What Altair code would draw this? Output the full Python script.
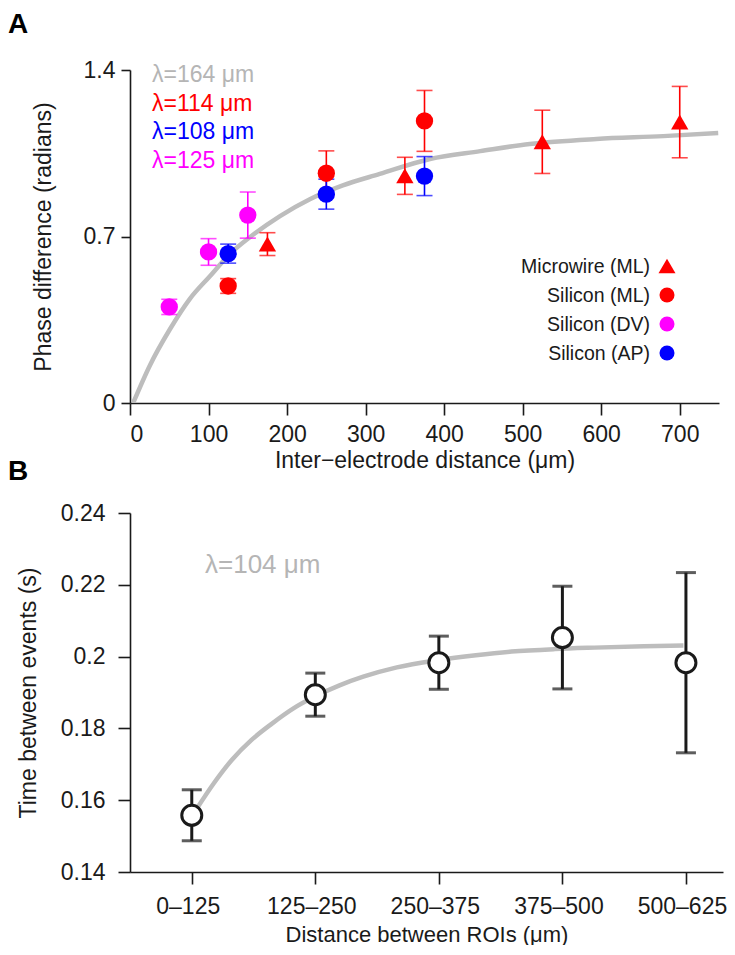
import altair as alt
import pandas as pd

FONT = "Liberation Sans"
INK = "#1a1a1a"
FIT_GREY = "#BDBDBD"

# ---------------- Panel A data ----------------
series_names = ["Microwire (ML)", "Silicon (ML)", "Silicon (DV)", "Silicon (AP)"]
series_colors = ["#FF0000", "#FF0000", "#FF00FF", "#0000FF"]
series_shapes = ["triangle-up", "circle", "circle", "circle"]

mw_x = [175, 350, 525, 700]
mw_y = [0.668, 0.955, 1.098, 1.181]
mw_err = [0.048, 0.078, 0.133, 0.150]

siml_x = [125, 250, 375]
siml_y = [0.492, 0.966, 1.186]
siml_err = [0.031, 0.094, 0.128]

sidv_x = [50, 100, 150]
sidv_y = [0.404, 0.635, 0.790]
sidv_err = [0.032, 0.056, 0.097]

siap_x = [125, 250, 375]
siap_y = [0.628, 0.878, 0.954]
siap_err = [0.040, 0.063, 0.082]

fit_a_x = [4, 25, 51, 76, 102, 127, 153, 191, 229, 271, 318, 382, 446, 509, 594, 679, 749]
fit_a_y = [0.0, 0.156, 0.311, 0.437, 0.534, 0.626, 0.698, 0.786, 0.857, 0.915,
           0.963, 1.026, 1.059, 1.089, 1.110, 1.122, 1.135]

lambda_a_text = ["λ=164 μm", "λ=114 μm", "λ=108 μm", "λ=125 μm"]
lambda_a_colors = ["#B5B5B5", "#FF0000", "#0000FF", "#FF00FF"]

x_ticks_a = [0, 100, 200, 300, 400, 500, 600, 700]
y_ticks_a = [0, 0.7, 1.4]

# ---------------- Panel B data ----------------
roi_bins = ["0–125", "125–250", "250–375", "375–500", "500–625"]
roi_mean = [0.1558, 0.1894, 0.1983, 0.2053, 0.1983]
roi_err = [0.0071, 0.0060, 0.0074, 0.0143, 0.0251]

fit_b_x = [66, 85, 103, 123, 143, 165, 188, 212, 236, 270, 311, 350, 386, 430, 470, 520, 560]
fit_b_y = [0.1570, 0.1648, 0.1712, 0.1768, 0.1812, 0.1855, 0.1890, 0.1920, 0.1944,
           0.1970, 0.1990, 0.2004, 0.2014, 0.2021, 0.2025, 0.2029, 0.2031]

lambda_b_text = "λ=104 μm"
y_ticks_b = [0.14, 0.16, 0.18, 0.20, 0.22, 0.24]

# ---------------- tables ----------------
rows = []
for name, xs, ys, es in zip(series_names,
                            [mw_x, siml_x, sidv_x, siap_x],
                            [mw_y, siml_y, sidv_y, siap_y],
                            [mw_err, siml_err, sidv_err, siap_err]):
    for xv, yv, ev in zip(xs, ys, es):
        rows.append({"series": name, "x": xv, "y": yv, "lo": yv - ev, "hi": yv + ev})
df_a = pd.DataFrame(rows)
df_fit_a = pd.DataFrame({"x": fit_a_x, "y": fit_a_y})

roi_mid = [(float(a) + float(b)) / 2 for a, b in (s.split("–") for s in roi_bins)]
df_b = pd.DataFrame({
    "bin": roi_bins, "mid": roi_mid, "y": roi_mean,
    "lo": [m - e for m, e in zip(roi_mean, roi_err)],
    "hi": [m + e for m, e in zip(roi_mean, roi_err)],
})
df_fit_b = pd.DataFrame({"mid": fit_b_x, "y": fit_b_y})

# ---------------- Panel A ----------------
x_axis_a = alt.Axis(values=x_ticks_a, title="Inter−electrode distance (μm)", format="d",
                    tickSize=12, labelPadding=8, titlePadding=3)
y_axis_a = alt.Axis(values=y_ticks_a, title="Phase difference (radians)", format=".1~f",
                    tickSize=9, labelPadding=6, titlePadding=28)
x_scale_a = alt.Scale(domain=[0, 750], nice=False, zero=False)
y_scale_a = alt.Scale(domain=[0, 1.4], nice=False)

def xa(field):
    return alt.X(field, scale=x_scale_a, axis=x_axis_a)

def ya(field):
    return alt.Y(field, scale=y_scale_a, axis=y_axis_a)

color_a = alt.Color("series:N", scale=alt.Scale(domain=series_names, range=series_colors), legend=None)

fit_a = alt.Chart(df_fit_a).mark_line(color=FIT_GREY, strokeWidth=4.5, interpolate="monotone", clip=True).encode(
    x=xa("x:Q"), y=ya("y:Q"))

err_a = alt.Chart(df_a).mark_errorbar(ticks={"size": 16}, thickness=1.6).encode(
    x=xa("x:Q"), y=ya("lo:Q"), y2="hi:Q", color=color_a)

pts_a = alt.Chart(df_a).mark_point(filled=True, opacity=1, size=300).encode(
    x=xa("x:Q"), y=ya("y:Q"), color=color_a,
    shape=alt.Shape("series:N", scale=alt.Scale(domain=series_names, range=series_shapes), legend=None))

layers_a = [fit_a, err_a, pts_a]

for i, (t, c) in enumerate(zip(lambda_a_text, lambda_a_colors)):
    layers_a.append(
        alt.Chart(pd.DataFrame({"t": [t]})).mark_text(
            align="left", baseline="alphabetic", font=FONT, fontSize=23, color=c
        ).encode(text="t:N", x=alt.value(22), y=alt.value(12 + 28.5 * i))
    )

legend_sizes = {"triangle-up": 290, "circle": 225}
for i, (name, c, shp) in enumerate(zip(series_names, series_colors, series_shapes)):
    one = pd.DataFrame({"t": [name]})
    layers_a.append(
        alt.Chart(one).mark_text(align="right", baseline="alphabetic", font=FONT,
                                 fontSize=19.5, color=INK).encode(
            text="t:N", x=alt.value(520), y=alt.value(202.5 + 29 * i))
    )
    layers_a.append(
        alt.Chart(one).mark_point(shape=shp, filled=True, opacity=1, color=c,
                                  size=legend_sizes[shp]).encode(
            x=alt.value(537), y=alt.value(196 + 29 * i))
    )

panel_a = alt.layer(*layers_a).properties(
    width=589, height=333,
    title=alt.TitleParams("A", anchor="start", frame="group", fontSize=28, fontWeight="bold",
                          font=FONT, color="black", dx=-122, offset=20),
)

# ---------------- Panel B ----------------
label_expr = " : ".join(f"datum.value == {m} ? '{b}'" for m, b in zip(roi_mid, roi_bins)) + " : ''"
x_axis_b = alt.Axis(values=roi_mid, labelExpr=label_expr, title="Distance between ROIs (μm)",
                    tickSize=12, labelPadding=11, labelOffset=-4, titlePadding=6, titleFontSize=22)
y_axis_b = alt.Axis(values=y_ticks_b, format=".2~f", title="Time between events (s)",
                    tickSize=12, labelPadding=13, titlePadding=20)
x_scale_b = alt.Scale(domain=[0, 600], nice=False)
y_scale_b = alt.Scale(domain=[0.14, 0.24], nice=False, zero=False)

def xb(field):
    return alt.X(field, scale=x_scale_b, axis=x_axis_b)

def yb(field):
    return alt.Y(field, scale=y_scale_b, axis=y_axis_b)

fit_b = alt.Chart(df_fit_b).mark_line(color=FIT_GREY, strokeWidth=4.5, interpolate="monotone").encode(
    x=xb("mid:Q"), y=yb("y:Q"))

err_b = alt.Chart(df_b).mark_errorbar(ticks={"size": 20}, thickness=3, color=INK).encode(
    x=xb("mid:Q"), y=yb("lo:Q"), y2="hi:Q")

pts_b = alt.Chart(df_b).mark_point(shape="circle", filled=True, fill="white", stroke=INK,
                                   strokeWidth=3, size=400, opacity=1).encode(
    x=xb("mid:Q"), y=yb("y:Q"))

lam_b = alt.Chart(pd.DataFrame({"t": [lambda_b_text]})).mark_text(
    align="left", baseline="alphabetic", font=FONT, fontSize=26, color="#B5B5B5"
).encode(text="t:N", x=alt.value(75), y=alt.value(60))

panel_b = alt.layer(fit_b, err_b, pts_b, lam_b).properties(
    width=593, height=359,
    title=alt.TitleParams("B", anchor="start", frame="group", fontSize=28, fontWeight="bold",
                          font=FONT, color="black", dx=-122, offset=16),
)

chart = alt.vconcat(panel_a, panel_b, spacing=110, bounds="flush").properties(
    padding={"top": 3, "left": 0, "right": 0, "bottom": 0}
).configure_view(stroke=None).configure_axis(
    domainColor=INK, tickColor=INK, domainWidth=1.6, tickWidth=1.6,
    labelColor=INK, titleColor=INK, labelFont=FONT, titleFont=FONT,
    labelFontSize=23, titleFontSize=23, titleFontWeight="normal", grid=False,
)

chart.save("out.html", embed_options={"renderer": "svg", "actions": False})
